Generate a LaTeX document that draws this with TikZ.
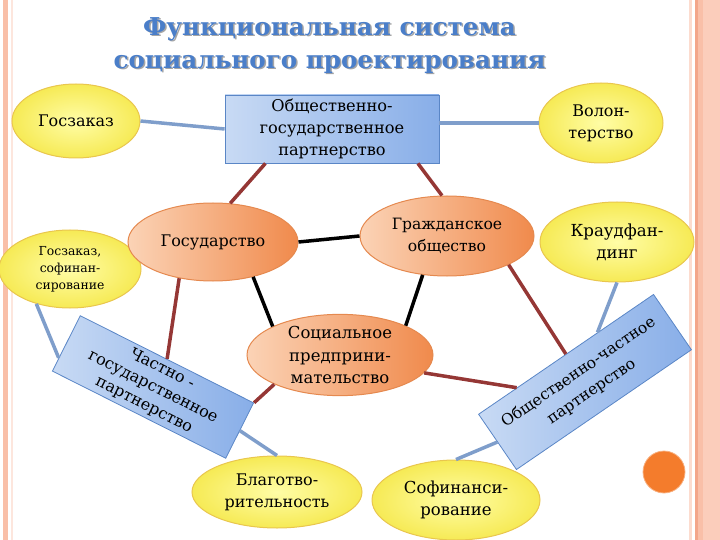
\documentclass[tikz,border=0pt]{standalone}
\usepackage{fontspec}
\setmainfont{DejaVu Serif}
\usetikzlibrary{shapes.geometric,calc}
\definecolor{ttl}{HTML}{4A7EC9}
\definecolor{ylwA}{HTML}{FFFDA6}
\definecolor{ylwB}{HTML}{F6EA55}
\definecolor{ylwD}{HTML}{E9C64E}
\definecolor{orA}{HTML}{FBD3B6}
\definecolor{orB}{HTML}{F08A4C}
\definecolor{orD}{HTML}{E5894F}
\definecolor{blA}{HTML}{C8DAF4}
\definecolor{blB}{HTML}{88AEE8}
\definecolor{blD}{HTML}{5A86C6}
\definecolor{redl}{HTML}{953735}
\definecolor{bluel}{HTML}{7F9ECB}
\definecolor{pinkA}{HTML}{F9BFA8}
\definecolor{pinkB}{HTML}{FBCDBB}
\definecolor{pinkC}{HTML}{F3A68A}
\definecolor{dotc}{HTML}{F47C2C}
\tikzset{
  yel/.style={ellipse, draw=ylwD, line width=1pt, inner sep=0pt, inner color=ylwA, outer color=ylwB, align=center, font=\fontsize{16}{22}\selectfont},
  orn/.style={ellipse, draw=orD, line width=1pt, inner sep=0pt, left color=orA, right color=orB, align=center, font=\fontsize{16}{22}\selectfont},
  blu/.style={rectangle, draw=blD, line width=0.8pt, inner sep=0pt, left color=blA, right color=blB, align=center, font=\fontsize{16.2}{22}\selectfont},
  redc/.style={draw=redl, line width=3.5pt},
  bluc/.style={draw=bluel, line width=3.5pt},
  blkc/.style={draw=black, line width=3.5pt},
  ttlstyle/.style={font=\fontsize{24.6}{33}\selectfont\bfseries, align=center}
}
\begin{document}
\begin{tikzpicture}[x=1pt,y=-1pt]
\useasboundingbox (0,0) rectangle (720,540);
% page borders
\fill[pinkA] (3,0) rectangle (7.5,540);
\fill[pinkB!50] (11,0) rectangle (12.5,540);
\fill[pinkB!70] (689,0) rectangle (692,540);
\fill[pinkC] (695,0) rectangle (697.5,540);
\fill[pinkB] (697.5,0) rectangle (720,540);
\fill[pinkA] (698,0) rectangle (703,540);
% title
\node[ttlstyle, text=black!35] (tsh) at (331,47) {Функциональная система\\социального проектирования};
\node[ttlstyle, text=ttl] (title) at (329.5,45.5) {Функциональная система\\социального проектирования};
% nodes
\node[blu, minimum width=214, minimum height=68] (pp) at (332,129) {Общественно-\\государственное\\партнерство};
\node[yel, minimum width=128, minimum height=74] (gz) at (76,121) {Госзаказ};
\node[yel, minimum width=142, minimum height=78, font=\fontsize{12.4}{17}\selectfont] (gzs) at (70,269) {Госзаказ,\\софинан-\\сирование};
\node[yel, minimum width=124, minimum height=80] (vol) at (601,123) {Волон-\\терство};
\node[orn, minimum width=170, minimum height=78] (gos) at (213,242) {Государство};
\node[orn, minimum width=174, minimum height=80, font=\fontsize{15.6}{22}\selectfont] (grazh) at (447,236) {Гражданское\\общество};
\node[yel, minimum width=154, minimum height=80, font=\fontsize{16.6}{22}\selectfont] (kraud) at (617,242) {Краудфан-\\динг};
\node[orn, minimum width=186, minimum height=80, font=\fontsize{16.5}{22.5}\selectfont] (soc) at (340,355) {Социальное\\предприни-\\мательство};
\node[blu, minimum width=194, minimum height=62, rotate=-26.7, font=\fontsize{16}{20}\selectfont] (ch) at (153,387) {Частно -\\государственное\\партнерство};
\node[blu, minimum width=212, minimum height=67, rotate=34.4, font=\fontsize{15.6}{23}\selectfont] (och) at (585,382) {Общественно-частное\\партнерство};
\node[yel, minimum width=170, minimum height=72] (blag) at (277,492) {Благотво-\\рительность};
\node[yel, minimum width=168, minimum height=80, font=\fontsize{16.5}{22}\selectfont] (sof) at (456,500) {Софинанси-\\рование};
\node[circle, fill=dotc, draw=dotc!60, line width=0.8pt, minimum size=42, inner sep=0pt] (dot) at (664,472) {};
% connectors
\draw[bluc] (gz.east) -- (pp.west);
\draw[bluc] (pp.east |- vol.west) -- (vol.west);
\draw[redc] ($(pp.south west)!0.19!(pp.south east)$) -- (gos.66);
\draw[redc] ($(pp.south west)!0.9!(pp.south east)$) -- (grazh.97);
\draw[blkc] (gos.east) -- (grazh.west);
\draw[blkc] (gos.-41) -- (soc.157);
\draw[blkc] (grazh.-122) -- (soc.24);
\draw[redc] (grazh.-25) -- (och.north);
\draw[redc] (soc.-12) -- ($(och.north west)!0.22!(och.north east)$);
\draw[redc] (soc.204) -- (ch.north east);
\draw[redc] (gos.-133) -- (ch.north);
\draw[bluc] (gzs.-134) -- ($(ch.north west)!0.76!(ch.south west)$);
\draw[bluc] (ch.east) -- (blag.north);
\draw[bluc] (kraud.south) -- ($(och.north west)!0.68!(och.north east)$);
\draw[bluc] (och.west) -- (sof.north);
\end{tikzpicture}
\end{document}
